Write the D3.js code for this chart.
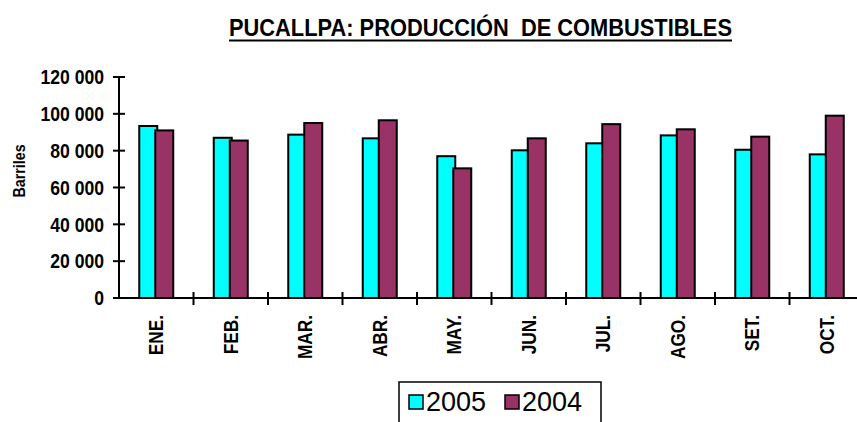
<!DOCTYPE html>
<html>
<head>
<meta charset="utf-8">
<script src="https://cdn.jsdelivr.net/npm/d3@7"></script>
<style>
  html, body { margin: 0; padding: 0; background: #fff; }
  svg { display: block; }
</style>
</head>
<body>
<svg id="chart" width="857" height="422"></svg>
<script>
const months = ["ENE.", "FEB.", "MAR.", "ABR.", "MAY.", "JUN.", "JUL.", "AGO.", "SET.", "OCT."];
const series = ["2005", "2004"];
const values2005 = [93400, 87000, 88700, 86700, 77000, 80200, 84000, 88300, 80500, 78000];
const values2004 = [91000, 85500, 95000, 96500, 70400, 86700, 94400, 91600, 87600, 99000];
const colors = ["#00FFFF", "#993366"];
const yTicks = [0, 20000, 40000, 60000, 80000, 100000, 120000];
const titleText = "PUCALLPA: PRODUCCIÓN\u00A0 DE COMBUSTIBLES";
const yLabel = "Barriles";

const font = "'Liberation Sans', Arial, sans-serif";
const svg = d3.select("#chart");

const x = d3.scaleBand().domain(months).range([119, 864]).padding(0);
const xs = d3.scalePoint().domain(series).range([-8, 8]);
const y = d3.scaleLinear().domain([0, 120000]).range([298, 77]);
const color = d3.scaleOrdinal().domain(series).range(colors);
const fmt = v => d3.format(",")(v).replace(/,/g, " ");

// title
svg.append("text")
  .attr("x", 229).attr("y", 35.5)
  .attr("textLength", 503).attr("lengthAdjust", "spacingAndGlyphs")
  .style("font-family", font).style("font-weight", "bold").style("font-size", "23px")
  .text(titleText);
svg.append("line").attr("x1", 229).attr("x2", 732).attr("y1", 40.5).attr("y2", 40.5)
  .attr("stroke", "#000").attr("stroke-width", 2);

// y label
svg.append("text")
  .attr("transform", "translate(19,171) rotate(-90) scale(0.84,1)")
  .attr("text-anchor", "middle").attr("dominant-baseline", "central")
  .style("font-family", font).style("font-weight", "bold").style("font-size", "17px")
  .text(yLabel);

// bars
const data = months.map((m, i) => ({ m, vals: [
  { s: series[0], v: values2005[i] },
  { s: series[1], v: values2004[i] }
]}));
const groups = svg.append("g").selectAll("g").data(data).join("g")
  .attr("transform", d => `translate(${x(d.m) + x.bandwidth() / 2},0)`);
groups.selectAll("rect").data(d => d.vals).join("rect")
  .attr("x", d => xs(d.s) - 9)
  .attr("width", 18)
  .attr("y", d => y(d.v))
  .attr("height", d => y(0) - y(d.v))
  .attr("fill", d => color(d.s))
  .attr("stroke", "#000").attr("stroke-width", 2);

// y axis
const yAxis = svg.append("g");
yAxis.append("line").attr("x1", 119).attr("x2", 119).attr("y1", y(120000)).attr("y2", y(0))
  .attr("stroke", "#000").attr("stroke-width", 2);
yAxis.selectAll("line.t").data(yTicks).join("line").attr("class", "t")
  .attr("x1", 113).attr("x2", 125).attr("y1", d => y(d)).attr("y2", d => y(d))
  .attr("stroke", "#000").attr("stroke-width", 2);
yAxis.selectAll("text").data(yTicks).join("text")
  .attr("transform", d => `translate(104,${y(d)}) scale(0.88,1)`)
  .attr("dy", "0.36em")
  .attr("text-anchor", "end")
  .style("font-family", font).style("font-weight", "bold").style("font-size", "20px")
  .text(fmt);

// x axis
const xAxis = svg.append("g");
xAxis.append("line").attr("x1", 119).attr("x2", 864).attr("y1", y(0)).attr("y2", y(0))
  .attr("stroke", "#000").attr("stroke-width", 2);
xAxis.selectAll("line.t").data(months.slice(1)).join("line").attr("class", "t")
  .attr("x1", d => x(d)).attr("x2", d => x(d)).attr("y1", y(0) - 6).attr("y2", y(0) + 7)
  .attr("stroke", "#000").attr("stroke-width", 2);
xAxis.selectAll("text").data(months).join("text")
  .attr("transform", d => `translate(${x(d) + x.bandwidth() / 2},315) rotate(-90) scale(0.82,1)`)
  .attr("text-anchor", "end").attr("dominant-baseline", "central")
  .style("font-family", font).style("font-weight", "bold").style("font-size", "21px")
  .text(d => d);

// legend
const lg = svg.append("g");
lg.append("rect").attr("x", 399).attr("y", 382).attr("width", 202).attr("height", 60)
  .attr("fill", "#fff").attr("stroke", "#000").attr("stroke-width", 1.5);
const legX = [409, 505];
series.forEach((s, i) => {
  lg.append("rect").attr("x", legX[i]).attr("y", 395).attr("width", 14).attr("height", 14)
    .attr("fill", color(s)).attr("stroke", "#000").attr("stroke-width", 1.5);
  lg.append("text").attr("x", legX[i] + 17).attr("y", 411)
    .style("font-family", font).style("font-size", "27px")
    .text(s);
});
</script>
</body>
</html>
